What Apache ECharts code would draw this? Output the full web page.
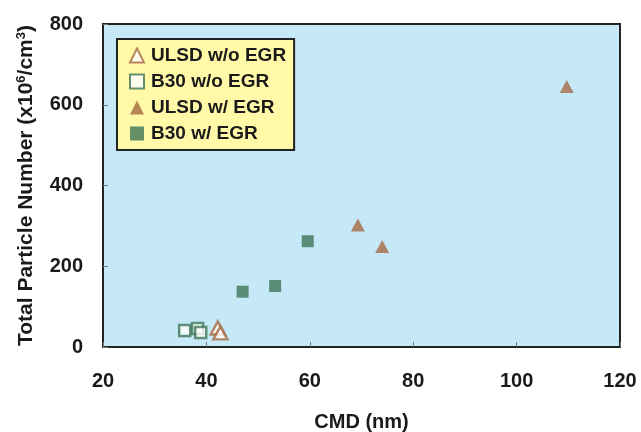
<!DOCTYPE html>
<html>
<head>
<meta charset="utf-8">
<script src="https://cdn.jsdelivr.net/npm/echarts@6/dist/echarts.min.js"></script>
<style>html,body{margin:0;padding:0;background:#fff;}#c{width:641px;height:432px;}</style>
</head>
<body>
<div id="c"></div>
<script>
var seriesNames = ['ULSD w/o EGR', 'B30 w/o EGR', 'ULSD w/ EGR', 'B30 w/ EGR'];
var ulsdNoEgrCMD = [42.2, 42.7];
var ulsdNoEgrPN = [47, 35];
var b30NoEgrCMD = [35.8, 38.3, 38.9];
var b30NoEgrPN = [41, 46, 36];
var ulsdEgrCMD = [69.3, 74.0, 109.7];
var ulsdEgrPN = [302, 249, 645];
var b30EgrCMD = [47.0, 53.3, 59.6];
var b30EgrPN = [137, 151, 262];
var xTicks = [20, 40, 60, 80, 100, 120];
var yTicks = [0, 200, 400, 600, 800];

var brown = '#A66A43', green = '#3D7656';
function pts(xs, ys) { return xs.map(function (x, i) { return [x, ys[i]]; }); }

var chart = echarts.init(document.getElementById('c'));
var font = 'Liberation Sans, Arial, sans-serif';
chart.setOption({
  animation: false,
  backgroundColor: '#fff',
  grid: {
    left: 103, top: 24, width: 517, height: 323,
    outerBoundsMode: 'none', containLabel: false,
    show: true, backgroundColor: '#C6E9F8', borderColor: '#222', borderWidth: 2
  },
  legend: {
    orient: 'vertical', left: 117, top: 39,
    backgroundColor: '#FFF9A8', borderColor: '#222', borderWidth: 2,
    padding: [7, 8, 7, 12], itemGap: 7, itemWidth: 14, itemHeight: 14,
    data: seriesNames,
    textStyle: { fontFamily: font, fontWeight: 'bold', fontSize: 19, color: '#1a1a1a', padding: [0, 0, 0, 2] }
  },
  xAxis: {
    type: 'value', min: xTicks[0], max: xTicks[xTicks.length - 1], interval: 20,
    name: 'CMD (nm)', nameLocation: 'middle', nameGap: 65,
    nameTextStyle: { fontFamily: font, fontWeight: 'bold', fontSize: 20, color: '#1a1a1a' },
    axisLine: { show: false },
    axisTick: { show: true, inside: true, length: 5, lineStyle: { color: '#777' } },
    splitLine: { show: false },
    axisLabel: { margin: 24, fontFamily: font, fontWeight: 'bold', fontSize: 20, color: '#1a1a1a' }
  },
  yAxis: {
    type: 'value', min: yTicks[0], max: yTicks[yTicks.length - 1], interval: 200,
    name: '{t|Total Particle Number (x10}{s|6}{t|/cm}{s|3}{t|)}', nameLocation: 'middle', nameGap: 66,
    nameTextStyle: {
      rich: {
        t: { fontFamily: font, fontWeight: 'bold', fontSize: 21, color: '#1a1a1a' },
        s: { fontFamily: font, fontWeight: 'bold', fontSize: 13, color: '#1a1a1a', verticalAlign: 'top', padding: [0, 0, 9, 0] }
      }
    },
    axisLine: { show: false },
    axisTick: { show: true, inside: true, length: 5, lineStyle: { color: '#777' } },
    splitLine: { show: false },
    axisLabel: { margin: 20, fontFamily: font, fontWeight: 'bold', fontSize: 20, color: '#1a1a1a' }
  },
  series: [
    { name: seriesNames[0], type: 'scatter', symbol: 'triangle', symbolSize: [14, 13],
      itemStyle: { color: '#fff', borderColor: brown, borderWidth: 2.5 }, data: pts(ulsdNoEgrCMD, ulsdNoEgrPN), z: 3 },
    { name: seriesNames[1], type: 'scatter', symbol: 'rect', symbolSize: 11,
      itemStyle: { color: '#fff', borderColor: green, borderWidth: 2.5 }, data: pts(b30NoEgrCMD, b30NoEgrPN), z: 2 },
    { name: seriesNames[2], type: 'scatter', symbol: 'triangle', symbolSize: [14, 13],
      itemStyle: { color: brown }, data: pts(ulsdEgrCMD, ulsdEgrPN) },
    { name: seriesNames[3], type: 'scatter', symbol: 'rect', symbolSize: 12,
      itemStyle: { color: green }, data: pts(b30EgrCMD, b30EgrPN) }
  ]
});
</script>
</body>
</html>
